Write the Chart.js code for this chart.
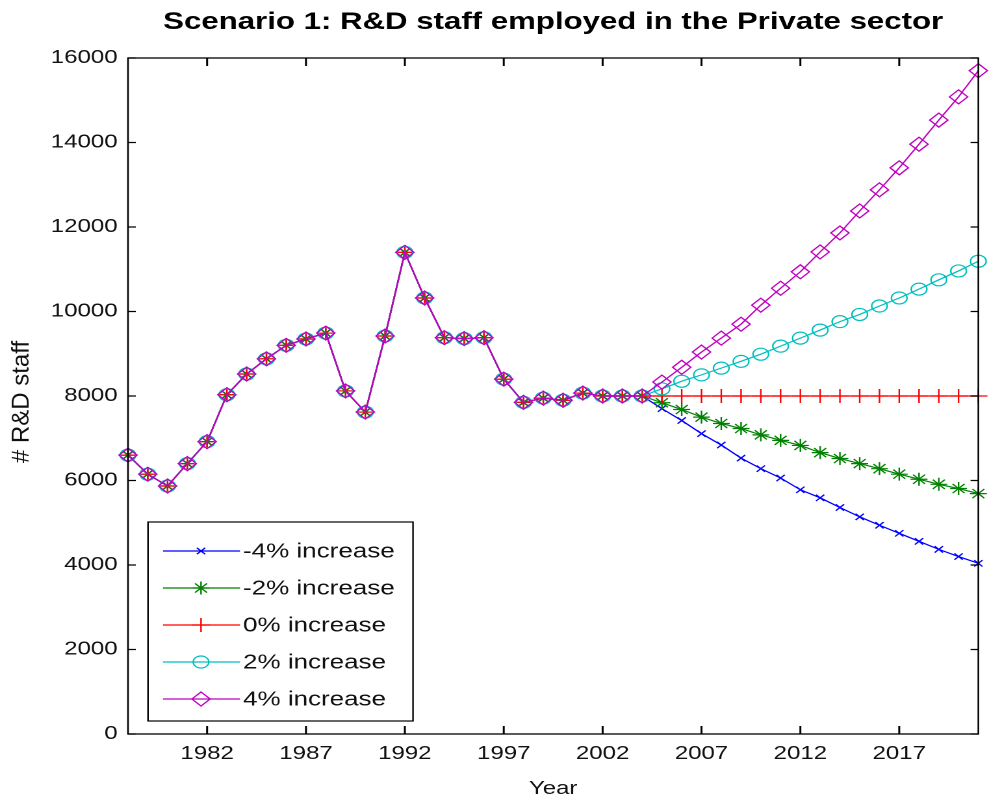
<!DOCTYPE html>
<html>
<head>
<meta charset="utf-8">
<script src="https://cdn.jsdelivr.net/npm/chart.js@4/dist/chart.umd.min.js"></script>
<style>
  html, body { margin: 0; padding: 0; background: #fff; overflow: hidden; }
</style>
</head>
<body>
<canvas id="c" width="761" height="800" style="width:989px;height:800px;display:block;"></canvas>
<script>
// ---- data ----
const years = [1978,1979,1980,1981,1982,1983,1984,1985,1986,1987,1988,1989,1990,1991,1992,1993,1994,1995,1996,1997,1998,1999,2000,2001,2002,2003,2004,
               2005,2006,2007,2008,2009,2010,2011,2012,2013,2014,2015,2016,2017,2018,2019,2020,2021];
const history = [6600,6150,5870,6400,6920,8030,8520,8880,9200,9350,9490,8120,7620,9420,11400,10320,9380,9360,9380,8400,7850,7950,7900,8070,8000,8000,8000];
const minus4 = [7700,7420,7110,6840,6530,6280,6060,5780,5590,5360,5140,4940,4750,4560,4370,4200,4040];
const minus2 = [7840,7680,7500,7350,7230,7080,6950,6830,6660,6520,6400,6280,6150,6030,5910,5810,5690];
const zero   = [8000,8000,8000,8000,8000,8000,8000,8000,8000,8000,8000,8000,8000,8000,8000,8000,8000];
const plus2  = [8170,8350,8500,8660,8820,8990,9180,9370,9560,9760,9930,10130,10320,10530,10750,10960,11190];
const plus4  = [8330,8680,9040,9370,9700,10150,10550,10940,11410,11860,12380,12880,13400,13960,14530,15080,15700];
const seriesLabels = ['-4% increase','-2% increase','0% increase','2% increase','4% increase'];
const xTickYears = [1982,1987,1992,1997,2002,2007,2012,2017];
const yTickValues = [0,2000,4000,6000,8000,10000,12000,14000,16000];
const titleText = 'Scenario 1: R&D staff employed in the Private sector';
const xTitle = 'Year';
const yTitle = '# R&D staff';

// ---- styling ----
const SX = 989 / 761; // horizontal stretch of the original picture
const FONT = "'Liberation Sans', Arial, sans-serif";
const styles = [
  { color: '#0000ff', pointStyle: 'crossRot', radius: 4.5 },
  { color: '#008000', pointStyle: 'star',     radius: 6.5 },
  { color: '#ff0000', pointStyle: 'cross',    radius: 7 },
  { color: '#00bfbf', pointStyle: 'circle',   radius: 6 },
  { color: '#bf00bf', pointStyle: 'rectRot',  radius: 7 }
];
const projections = [minus4, minus2, zero, plus2, plus4];

function toPoints(proj) {
  const vals = history.concat(proj);
  return vals.map((v, i) => ({ x: years[i], y: v }));
}

const datasets = projections.map((p, i) => ({
  label: seriesLabels[i],
  data: toPoints(p),
  borderColor: styles[i].color,
  backgroundColor: 'rgba(0,0,0,0)',
  pointBorderColor: styles[i].color,
  pointBackgroundColor: 'rgba(0,0,0,0)',
  pointStyle: styles[i].pointStyle,
  pointRadius: styles[i].radius,
  pointBorderWidth: 1.2,
  borderWidth: 1.2,
  tension: 0,
  clip: false,
  order: projections.length - 1 - i
}));

const framePlugin = {
  id: 'frame',
  afterDraw(chart, args, o) {
    const ctx = chart.ctx, a = chart.chartArea;
    const xs = chart.scales.x, ys = chart.scales.y;
    ctx.save();
    ctx.strokeStyle = '#000';
    ctx.lineWidth = 1.3;
    ctx.strokeRect(a.left, a.top, a.right - a.left, a.bottom - a.top);
    ctx.lineWidth = 1.5;
    ctx.beginPath();
    xTickYears.forEach(v => {
      const px = xs.getPixelForValue(v);
      ctx.moveTo(px, a.bottom); ctx.lineTo(px, a.bottom - 8);
      ctx.moveTo(px, a.top); ctx.lineTo(px, a.top + 8);
    });
    ctx.stroke();
    ctx.lineWidth = 1.3;
    ctx.beginPath();
    yTickValues.forEach(v => {
      const py = ys.getPixelForValue(v);
      ctx.moveTo(a.left, py); ctx.lineTo(a.left + 6, py);
      ctx.moveTo(a.right, py); ctx.lineTo(a.right - 6, py);
    });
    ctx.stroke();
    // y axis title, drawn without the horizontal stretch
    ctx.translate(o.yTitleX, (a.top + a.bottom) / 2 + o.yTitleDy);
    ctx.scale(1 / SX, 1);
    ctx.rotate(-Math.PI / 2);
    ctx.fillStyle = '#111';
    ctx.font = o.yTitleFont;
    ctx.textAlign = 'center';
    ctx.textBaseline = 'middle';
    ctx.fillText(yTitle, 0, 0);
    ctx.restore();
  }
};

const legendPlugin = {
  id: 'boxLegend',
  afterDraw(chart, args, o) {
    const ctx = chart.ctx;
    ctx.save();
    ctx.fillStyle = '#fff';
    ctx.fillRect(o.x, o.y, o.w, o.h);
    ctx.strokeStyle = '#000';
    ctx.lineWidth = 1.2;
    ctx.strokeRect(o.x, o.y, o.w, o.h);
    chart.data.datasets.forEach((ds, i) => {
      const y = o.firstRow + i * o.rowGap;
      ctx.strokeStyle = ds.borderColor;
      ctx.lineWidth = 1.2;
      ctx.beginPath();
      ctx.moveTo(o.lineX0, y); ctx.lineTo(o.lineX1, y);
      ctx.stroke();
      ctx.fillStyle = 'rgba(0,0,0,0)';
      Chart.helpers.drawPoint(ctx, { pointStyle: ds.pointStyle, radius: ds.pointRadius, rotation: 0, borderWidth: 1.2 }, o.markerX, y);
      ctx.fillStyle = '#111';
      ctx.font = o.font;
      ctx.textBaseline = 'middle';
      ctx.textAlign = 'left';
      ctx.fillText(ds.label, o.textX, y + 1);
    });
    ctx.restore();
  }
};

new Chart(document.getElementById('c'), {
  type: 'line',
  data: { datasets },
  plugins: [framePlugin, legendPlugin],
  options: {
    responsive: false,
    animation: false,
    devicePixelRatio: 2,
    layout: { padding: { left: 0, right: 1, top: 0, bottom: 0 } },
    plugins: {
      legend: { display: false },
      tooltip: { enabled: false },
      title: { display: false },
      frame: { yTitleX: 22 / SX, yTitleDy: 6, yTitleFont: "24px 'Liberation Sans', Arial, sans-serif" },
      boxLegend: {
        x: 148 / SX, y: 522, w: (413 - 148) / SX, h: 199,
        firstRow: 551, rowGap: 37,
        lineX0: 163 / SX, lineX1: 240 / SX, markerX: 201 / SX, textX: 243 / SX,
        font: "20px 'Liberation Sans', Arial, sans-serif"
      }
    },
    scales: {
      x: {
        type: 'linear', position: 'bottom', min: 1978, max: 2021,
        afterBuildTicks: s => { s.ticks = xTickYears.map(v => ({ value: v })); },
        afterFit: s => { s.height = 66; },
        grid: { display: false, drawTicks: false },
        border: { display: false },
        ticks: { padding: 9, color: '#111', font: { family: FONT, size: 18.5 }, maxRotation: 0, autoSkip: false, callback: v => String(v) },
        title: { display: true, text: xTitle, color: '#111', font: { family: FONT, size: 18.5 }, padding: { top: 0, bottom: 0 } }
      },
      xTop: {
        type: 'linear', position: 'top', min: 1978, max: 2021,
        afterFit: s => { s.height = 58; },
        grid: { display: false, drawTicks: false },
        border: { display: false },
        ticks: { display: false },
        title: { display: true, text: titleText, color: '#000', font: { family: FONT, size: 24, weight: 'bold' }, padding: { top: 8, bottom: 0 } }
      },
      y: {
        type: 'linear', position: 'left', min: 0, max: 16000,
        afterBuildTicks: s => { s.ticks = yTickValues.map(v => ({ value: v })); },
        afterFit: s => { s.width = 128 / SX; },
        grid: { display: false, drawTicks: false },
        border: { display: false },
        ticks: { padding: 8, color: '#111', font: { family: FONT, size: 18.5 }, callback: v => String(v) },
        title: { display: false, text: yTitle }
      }
    }
  }
});
</script>
</body>
</html>
